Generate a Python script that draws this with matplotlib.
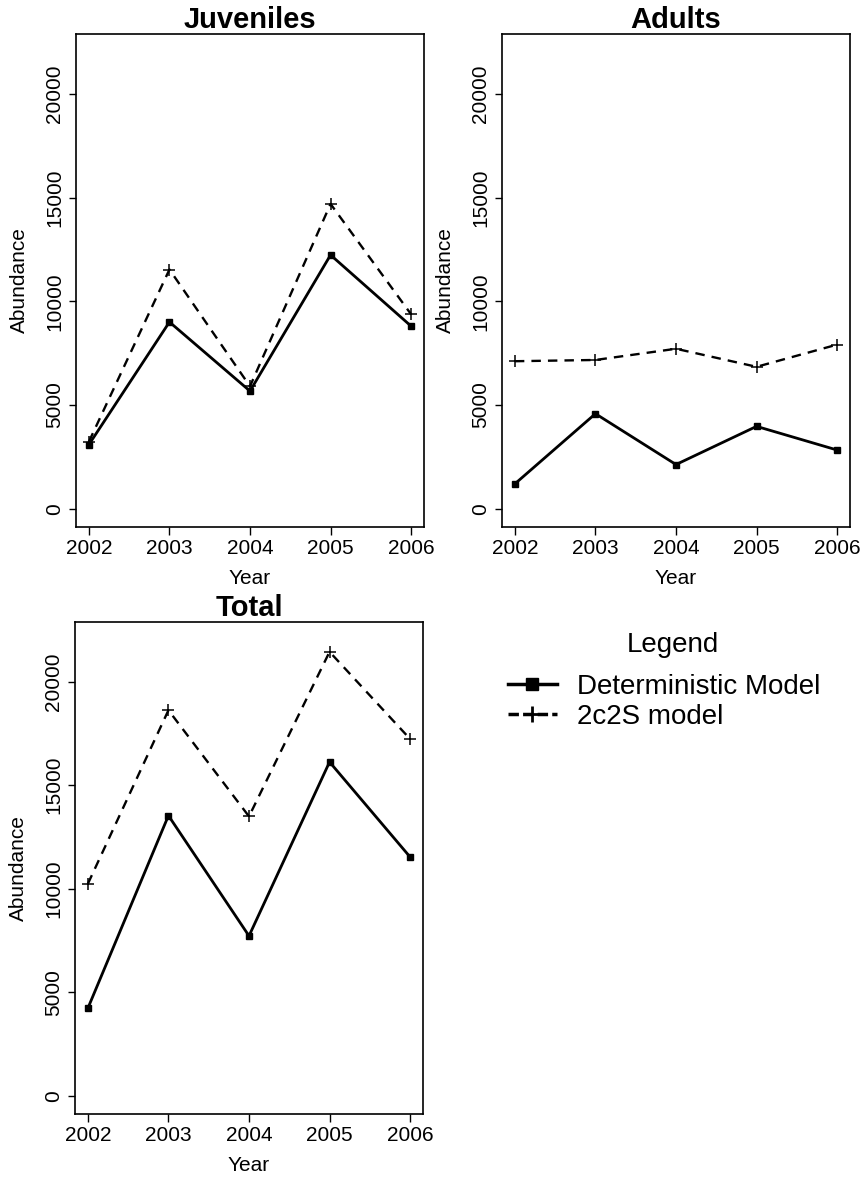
import matplotlib.pyplot as plt
from matplotlib.lines import Line2D

plt.rcParams['font.family'] = ['Liberation Sans', 'DejaVu Sans']

years = [2002, 2003, 2004, 2005, 2006]

juv_det = [3090, 9000, 5670, 12230, 8800]
juv_2c2s = [3230, 11530, 5900, 14690, 9370]

adu_det = [1200, 4580, 2130, 3970, 2830]
adu_2c2s = [7110, 7170, 7710, 6840, 7910]

tot_det = [4230, 13530, 7720, 16120, 11530]
tot_2c2s = [10240, 18620, 13490, 21440, 17230]

y_ticks = [0, 5000, 10000, 15000, 20000]
legend_labels = ["Deterministic Model", "2c2S model"]

W, H = 864, 1184
fig = plt.figure(figsize=(W / 100, H / 100), dpi=100)


def box(l, t, r, b):
    return [l / W, 1 - b / H, (r - l) / W, (b - t) / H]


def panel(rect, title, det, sto):
    l, t, r, b = rect
    ax = fig.add_axes(box(*rect))
    ax.plot(years, det, color='black', lw=2, marker='s', ms=4.5)
    ax.plot(years, sto, color='black', lw=1.7, ls=(0, (4, 3)),
            marker='+', ms=8, mew=1.1)
    ax.set_xlim(2002 - 0.16, 2006 + 0.16)
    ax.set_ylim(-880, 22880)
    ax.set_xticks(years)
    ax.set_yticks(y_ticks)
    ax.set_yticklabels([str(v) for v in y_ticks], rotation=90, va='center')
    ax.tick_params(axis='x', labelsize=15, length=5.4, width=1, pad=3)
    ax.tick_params(axis='y', labelsize=15, length=5.4, width=1, pad=3)
    for s in ax.spines.values():
        s.set_linewidth(1.2)
    # label positions: offsets in pixels from the box edges
    ax.set_xlabel("Year", fontsize=15)
    ax.xaxis.set_label_coords(0.5, -42 / (b - t))
    ax.set_ylabel("Abundance", fontsize=15)
    ax.yaxis.set_label_coords(-47 / (r - l), 0.5)
    ax.set_title(title, fontsize=21, fontweight='bold', pad=2.5)
    return ax


panel((76, 34, 424, 527), "Juveniles", juv_det, juv_2c2s)
panel((502, 34, 850, 527), "Adults", adu_det, adu_2c2s)
panel((75, 622, 423, 1114), "Total", tot_det, tot_2c2s)

fig.text(673 / W, 1 - 645 / H, "Legend", fontsize=20, ha='center', va='center')

handles = [
    Line2D([], [], color='black', lw=2.5, marker='s', ms=8.5),
    Line2D([], [], color='black', lw=2.5, ls=(0, (3, 1.2)), marker='+',
           ms=11, mew=2),
]
fig.legend(handles, legend_labels, loc='upper left',
           bbox_to_anchor=(508 / W, 1 - 674 / H), frameon=False,
           fontsize=20, handlelength=1.75, handletextpad=0.75,
           labelspacing=0.15, borderpad=0, borderaxespad=0)

fig.savefig("out.png", dpi=100)
